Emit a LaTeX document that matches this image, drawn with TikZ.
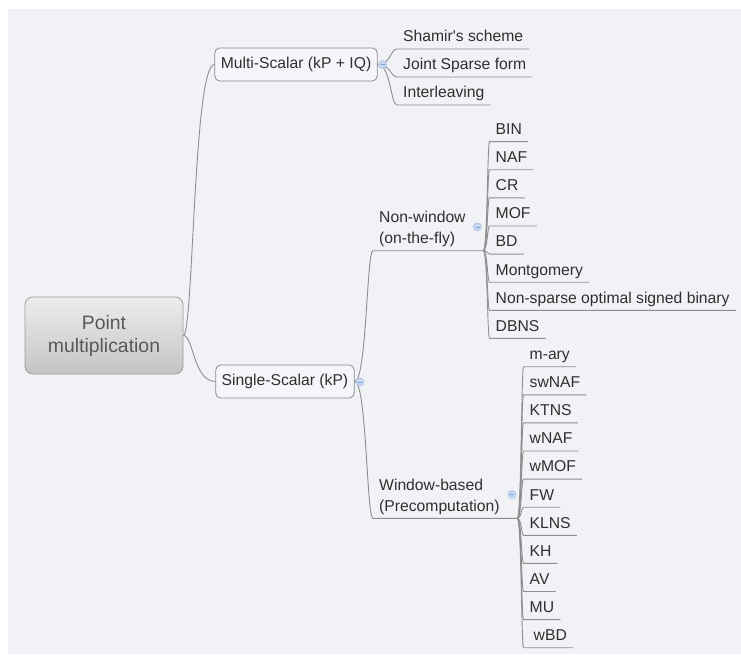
\documentclass[tikz,border=0pt]{standalone}
\usepackage{fontspec}
\setmainfont{Liberation Sans}
\usetikzlibrary{calc}
\definecolor{bgpanel}{HTML}{F1F2F6}
\definecolor{linec}{HTML}{8E8E8E}
\definecolor{txt}{HTML}{2F2F2F}
\definecolor{roottxt}{HTML}{585858}
\definecolor{rootb}{HTML}{9C9C9C}
\definecolor{rtop}{HTML}{EDEDED}
\definecolor{rbot}{HTML}{C4C4C4}
\definecolor{boxb}{HTML}{8A8A8A}
\definecolor{boxf}{HTML}{F5F6F9}
\definecolor{mkf}{HTML}{C9DAF0}
\definecolor{mkd}{HTML}{A5BEDF}
\definecolor{mkm}{HTML}{7A9CC8}
\tikzset{
  conn/.style={draw=linec, line width=0.9pt},
  leaf/.style={anchor=south west, inner xsep=6pt, inner ysep=0pt, text depth=7pt,
    font=\fontsize{15.7}{21}\selectfont, text=txt},
  midnode/.style={anchor=south west, inner xsep=6pt, inner ysep=0pt, align=left,
    font=\fontsize{15.7}{21}\selectfont, text=txt},
  branch/.style={draw=boxb, fill=boxf, line width=0.8pt, rounded corners=5pt,
    minimum height=33pt, inner xsep=6pt, inner ysep=0pt,
    font=\fontsize{15.7}{21}\selectfont, text=txt},
  rootbox/.style={draw=rootb, top color=rtop, bottom color=rbot, line width=0.8pt,
    rounded corners=8pt, minimum width=158pt, minimum height=77pt, align=center,
    font=\fontsize{19.4}{23}\selectfont, text=roottxt},
  marker/.style={circle, minimum size=8pt, inner sep=0pt, fill=mkf, draw=mkd, line width=0.6pt,
    path picture={\draw[mkm, line width=0.8pt]
      ([xshift=-2pt]path picture bounding box.center) -- ([xshift=2pt]path picture bounding box.center);}}
}
\begin{document}
\begin{tikzpicture}[x=1pt,y=-1pt]
\useasboundingbox (0,0) rectangle (741,655);
\fill[white] (0,0) rectangle (741,655);
\fill[bgpanel] (8,9) rectangle (741,653.5);

% main nodes
\node[rootbox] (root) at (104,335.5) {Point\\multiplication};
\node[branch] (multi) at (296,64.5) {Multi-Scalar (kP + IQ)};
\node[branch] (single) at (285,381.5) {Single-Scalar (kP)};
\node[midnode, text width=98pt] (nw) at (373,250.7) {Non-window\\(on-the-fly)\rule[-7pt]{0pt}{7pt}};
\node[midnode, text width=132pt] (wb) at (373,518.3) {Window-based\\(Precomputation)\rule[-7pt]{0pt}{7pt}};

% leaves of Multi-Scalar
\node[leaf] (sh) at (397,49) {Shamir\textquotesingle s scheme};
\node[leaf] (js) at (397,77) {Joint Sparse form};
\node[leaf] (il) at (397,105) {Interleaving};

% leaves of Non-window
\foreach \t [count=\i from 0] in {BIN,NAF,CR,MOF,BD,Montgomery,Non-sparse optimal signed binary,DBNS}
  \node[leaf] (n\i) at (489.5,{141.7+28.1*\i}) {\t};

% leaves of Window-based
\foreach \t [count=\i from 0] in {m-ary,swNAF,KTNS,wNAF,wMOF,FW,KLNS,KH,AV,MU,\hspace{4pt}wBD}
  \node[leaf] (w\i) at (523.5,{366.7+28.1*\i}) {\t};

% spine control points
\coordinate (s0) at ($(root.east)+(10,0)$);
\coordinate (s1) at ($(multi.east)+(13,0)$);
\coordinate (s2) at ($(single.east)+(12,0)$);
\coordinate (s3) at ($(nw.south east)+(4,0)$);
\coordinate (s4) at ($(wb.south east)+(4,0)$);

% connectors
\foreach \c in {multi,single}
  \draw[conn] (root.east) .. controls (s0) and (s0 |- \c.west) .. (\c.west);
\foreach \c in {sh,js,il}
  \draw[conn] (multi.east) .. controls (s1) and (s1 |- \c.south west) .. (\c.south west) -- (\c.south east);
\foreach \c in {nw,wb}
  \draw[conn] (single.east) .. controls (s2) and (s2 |- \c.south west) .. (\c.south west) -- (\c.south east);
\foreach \i in {0,...,7}
  \draw[conn] (nw.south east) .. controls (s3) and (s3 |- n\i.south west) .. (n\i.south west) -- (n\i.south east);
\foreach \i in {0,...,10}
  \draw[conn] (wb.south east) .. controls (s4) and (s4 |- w\i.south west) .. (w\i.south west) -- (w\i.south east);

% collapse markers
\node[marker] (m1) at (382.5,64.5) {};
\node[marker] (m2) at (360,382) {};
\node[marker] (m3) at (477.5,227) {};
\node[marker] (m4) at (512,494.5) {};
\end{tikzpicture}
\end{document}
